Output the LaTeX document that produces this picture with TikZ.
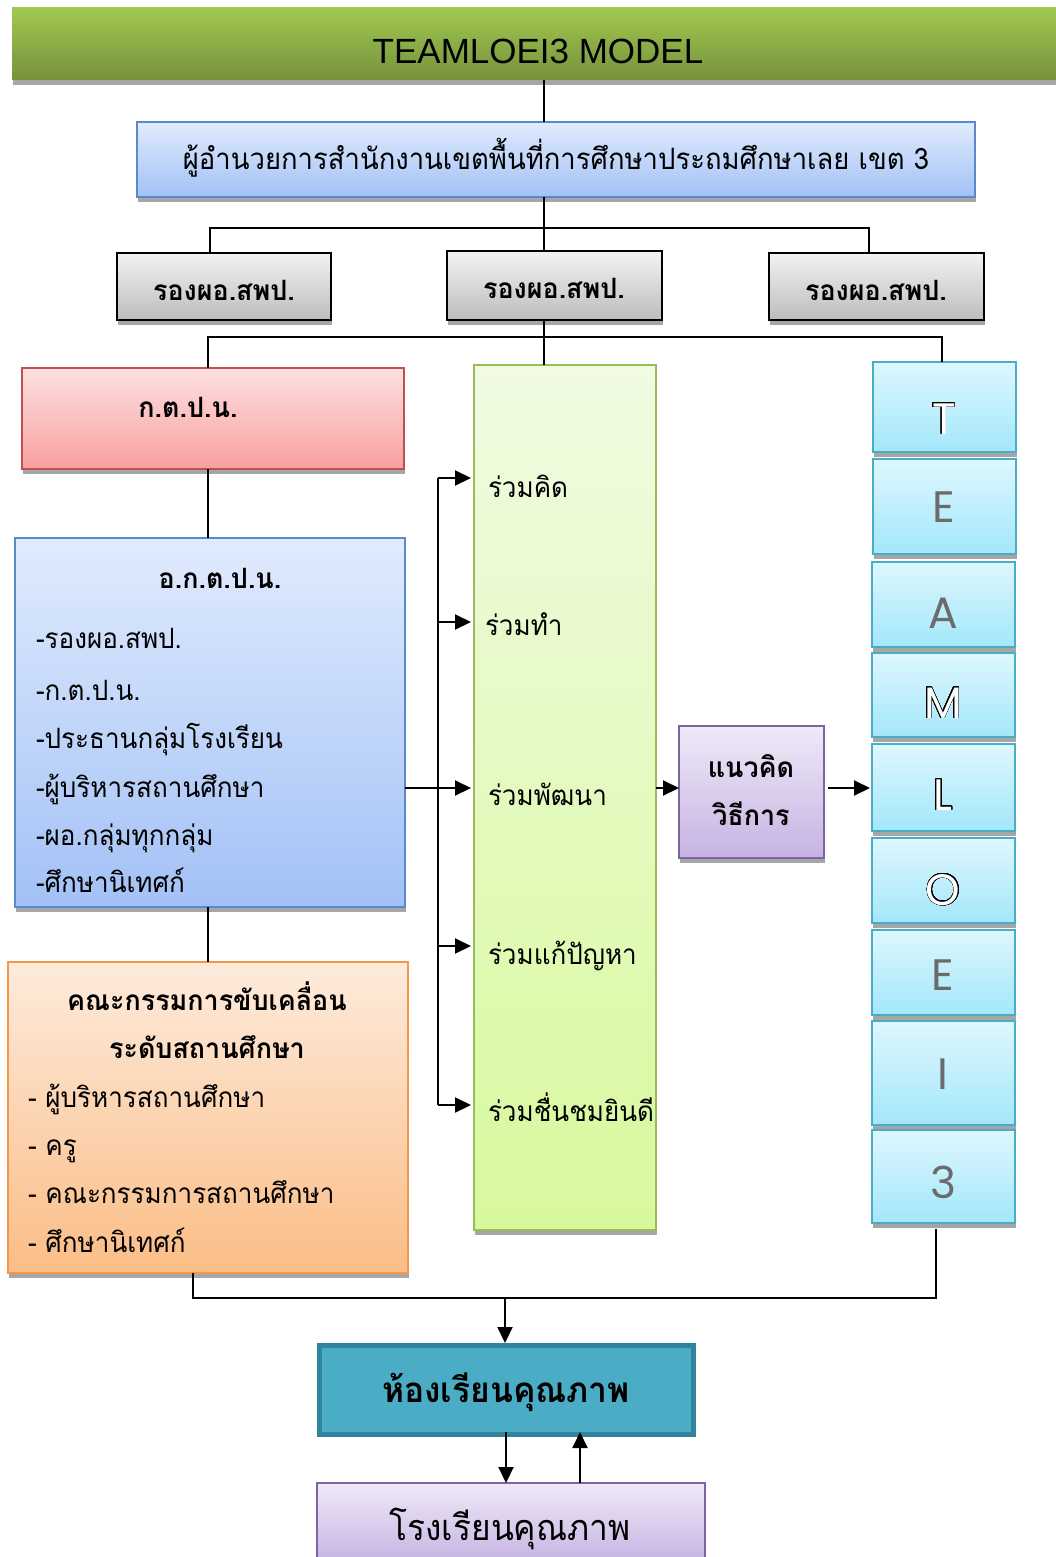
\documentclass[tikz,border=0pt]{standalone}
\usepackage{fontspec}
\setmainfont{Liberation Sans}
\newfontfamily\thai[Script=Thai,FakeStretch=0.93]{Loma}
\newfontfamily\thaib[Script=Thai,FakeStretch=0.96]{Loma}
\newfontfamily\geo{Poppins}
\usepackage{contour}
\contourlength{0.7pt}
\contournumber{32}
\usetikzlibrary{arrows.meta,shadows}
\definecolor{hdrT}{HTML}{A0C850}\definecolor{hdrB}{HTML}{76923C}
\definecolor{bluT}{HTML}{E0EBFD}\definecolor{bluB}{HTML}{A3C1F6}\definecolor{bluD}{HTML}{5B89CC}
\definecolor{gryT}{HTML}{F2F2F2}\definecolor{gryB}{HTML}{BDBDBD}
\definecolor{redT}{HTML}{FDE0E0}\definecolor{redB}{HTML}{F8A0A0}\definecolor{redD}{HTML}{C0504D}
\definecolor{orgT}{HTML}{FDEBDC}\definecolor{orgB}{HTML}{FBBD86}\definecolor{orgD}{HTML}{F79646}
\definecolor{grnT}{HTML}{F0FBE2}\definecolor{grnB}{HTML}{D7F99C}\definecolor{grnD}{HTML}{9BBB59}
\definecolor{purT}{HTML}{EFE9F8}\definecolor{purB}{HTML}{C6B3E2}\definecolor{purD}{HTML}{8064A2}
\definecolor{cyaT}{HTML}{DEF7FE}\definecolor{cyaB}{HTML}{A3E7FA}\definecolor{cyaD}{HTML}{4BACC6}
\definecolor{clsF}{HTML}{4BACC6}\definecolor{clsD}{HTML}{31849B}
\definecolor{ltrG}{HTML}{6B6B6B}
\begin{document}
\begin{tikzpicture}[x=1pt,y=-1pt,
  bx/.style={inner sep=0pt, outer sep=0pt, line width=1.5pt,
    drop shadow={shadow xshift=1pt, shadow yshift=-5pt, fill=black!35, opacity=1}},
  hdr/.style={bx, draw=none, top color=hdrT, bottom color=hdrB},
  bluebox/.style={bx, draw=bluD, top color=bluT, bottom color=bluB},
  greybox/.style={bx, draw=black, line width=2pt, top color=gryT, bottom color=gryB},
  redbox/.style={bx, draw=redD, top color=redT, bottom color=redB},
  orgbox/.style={bx, draw=orgD, top color=orgT, bottom color=orgB},
  grnbox/.style={bx, draw=grnD, top color=grnT, bottom color=grnB},
  purbox/.style={bx, draw=purD, top color=purT, bottom color=purB},
  cyabox/.style={bx, draw=cyaD, line width=2pt, top color=cyaT, bottom color=cyaB, minimum width=143pt},
  clsbox/.style={inner sep=0pt, outer sep=0pt, draw=clsD, line width=5pt, fill=clsF},
  conn/.style={line width=2pt, black},
  arr/.style={conn, -{Triangle[length=16pt,width=15pt]}},
  tx/.style={inner sep=0pt, outer sep=0pt, text=black},
  th/.style={tx, font=\thai\fontsize{28}{28}\selectfont},
  thb/.style={tx, font=\thaib\bfseries\fontsize{28}{28}\selectfont},
  ltr/.style={tx, font=\geo\fontsize{44}{44}\selectfont}
]
\useasboundingbox (0,0) rectangle (1056,1557);
\fill[white] (0,0) rectangle (1056,1557);

% ---------- boxes ----------
\node[hdr, minimum width=1046pt, minimum height=72pt] (title) at (535,44) {};
\node[bluebox, minimum width=838pt, minimum height=75pt] (dir) at (556,159.5) {};
\node[greybox, minimum width=214pt, minimum height=67pt] (g1) at (224,286.5) {};
\node[greybox, minimum width=215pt, minimum height=69pt] (g2) at (554.5,285.5) {};
\node[greybox, minimum width=215pt, minimum height=67pt] (g3) at (876.5,286.5) {};
\node[redbox, minimum width=382pt, minimum height=101pt] (kpn) at (213,418.5) {};
\node[bluebox, minimum width=390pt, minimum height=369pt] (okpn) at (210,722.5) {};
\node[orgbox, minimum width=400pt, minimum height=311pt] (comm) at (208,1117.5) {};
\node[grnbox, minimum width=182pt, minimum height=865pt] (green) at (565,797.5) {};
\node[purbox, minimum width=145pt, minimum height=132pt] (idea) at (751.5,792) {};
\node[cyabox, minimum height=90pt] (lT) at (944.5,407) {};
\node[cyabox, minimum height=95pt] (lE) at (944.5,506.5) {};
\node[cyabox, minimum height=85pt] (lA) at (943.5,604.5) {};
\node[cyabox, minimum height=84pt] (lM) at (943.5,695) {};
\node[cyabox, minimum height=87pt] (lL) at (943.5,787.5) {};
\node[cyabox, minimum height=85pt] (lO) at (943.5,880.5) {};
\node[cyabox, minimum height=85pt] (lE2) at (943.5,972.5) {};
\node[cyabox, minimum height=104pt] (lI) at (943.5,1073) {};
\node[cyabox, minimum height=93pt] (l3) at (943.5,1176.5) {};
\node[clsbox, minimum width=374pt, minimum height=89pt] (cls) at (506,1389.5) {};
\node[purbox, minimum width=388pt, minimum height=80pt] (sch) at (511,1523) {};

% ---------- texts ----------
\node[tx, font=\fontsize{35}{35}\selectfont] (titletx) at (538,51) {TEAMLOEI3 MODEL};
\node[tx, anchor=base, font=\thai\fontsize{29.5}{29.5}\selectfont] (dirtx) at (556,170) {ผู้อำนวยการสำนักงานเขตพื้นที่การศึกษาประถมศึกษาเลย เขต 3};
\node[thb, anchor=base] (g1tx) at (224,300) {รองผอ.สพป.};
\node[thb, anchor=base] (g2tx) at (554,298) {รองผอ.สพป.};
\node[thb, anchor=base] (g3tx) at (876,300) {รองผอ.สพป.};
\node[thb, anchor=base] (kpntx) at (188,417) {ก.ต.ป.น.};
\node[thb, anchor=base] (okh) at (220,588) {อ.ก.ต.ป.น.};
\node[th, anchor=base west] (ok1) at (36,648) {-รองผอ.สพป.};
\node[th, anchor=base west] (ok2) at (36,700) {-ก.ต.ป.น.};
\node[th, anchor=base west] (ok3) at (36,748) {-ประธานกลุ่มโรงเรียน};
\node[th, anchor=base west] (ok4) at (36,797) {-ผู้บริหารสถานศึกษา};
\node[th, anchor=base west] (ok5) at (36,845) {-ผอ.กลุ่มทุกกลุ่ม};
\node[th, anchor=base west] (ok6) at (36,892) {-ศึกษานิเทศก์};
\node[thb, anchor=base] (cmh1) at (207,1010) {คณะกรรมการขับเคลื่อน};
\node[thb, anchor=base] (cmh2) at (207,1058) {ระดับสถานศึกษา};
\node[th, anchor=base west] (cm1) at (28,1107) {- ผู้บริหารสถานศึกษา};
\node[th, anchor=base west] (cm2) at (28,1155) {- ครู};
\node[th, anchor=base west] (cm3) at (28,1203) {- คณะกรรมการสถานศึกษา};
\node[th, anchor=base west] (cm4) at (28,1252) {- ศึกษานิเทศก์};
\node[th, anchor=base west] (gr1) at (488,497) {ร่วมคิด};
\node[th, anchor=base west] (gr2) at (485,635) {ร่วมทำ};
\node[th, anchor=base west] (gr3) at (488,805) {ร่วมพัฒนา};
\node[th, anchor=base west] (gr4) at (488,964) {ร่วมแก้ปัญหา};
\node[th, anchor=base west] (gr5) at (488,1121) {ร่วมชื่นชมยินดี};
\node[thb, anchor=base] (id1) at (751,777) {แนวคิด};
\node[thb, anchor=base] (id2) at (751,825) {วิธีการ};
\node[ltr, anchor=base] (tT) at (944,434) {\contour{black}{\textcolor{white}{T}}};
\node[ltr, anchor=base, text=ltrG] (tE) at (944,522) {E};
\node[ltr, anchor=base, text=ltrG] (tA) at (943,628) {A};
\node[ltr, anchor=base] (tM) at (943,718) {\contour{black}{\textcolor{white}{M}}};
\node[ltr, anchor=base] (tL) at (943,810) {\contour{black}{\textcolor{white}{L}}};
\node[ltr, anchor=base] (tO) at (943,905) {\contour{black}{\textcolor{white}{O}}};
\node[ltr, anchor=base, text=ltrG] (tE2) at (943,990) {E};
\node[ltr, anchor=base, text=ltrG] (tI) at (943,1089) {I};
\node[ltr, anchor=base, text=ltrG] (t3) at (943,1198) {3};
\node[tx, anchor=base, font=\thaib\bfseries\fontsize{35}{35}\selectfont] (clstx) at (506,1402) {ห้องเรียนคุณภาพ};
\node[tx, anchor=base, font=\thai\fontsize{36}{36}\selectfont] (schtx) at (510,1540) {โรงเรียนคุณภาพ};

% ---------- connectors ----------
\coordinate (cx) at (544,0);
\coordinate (a1) at (210,228); \coordinate (a2) at (544,228); \coordinate (a3) at (869,228);
\coordinate (b1) at (208,337); \coordinate (b2) at (544,337); \coordinate (b3) at (942,337);
\draw[conn] (title.south -| cx) -- (dir.north -| cx);
\draw[conn] (dir.south -| cx) -- (g2.north -| cx);
\draw[conn] (g1.north -| a1) -- (a1) -- (a3) -- (g3.north -| a3);
\draw[conn] (g2.south -| cx) -- (green.north -| cx);
\draw[conn] (kpn.north -| b1) -- (b1) -- (b3) -- (lT.north -| b3);
\draw[conn] (kpn.south -| b1) -- (okpn.north -| b1);
\draw[conn] (okpn.south -| b1) -- (comm.north -| b1);
\coordinate (r1) at (438,478); \coordinate (r2) at (438,622); \coordinate (r3) at (438,788);
\coordinate (r4) at (438,946); \coordinate (r5) at (438,1105);
\draw[conn] (r1) -- (r5);
\foreach \r in {r1,r2,r3,r4,r5} { \draw[arr, shorten >=3pt] (\r) -- (green.west |- \r); }
\draw[conn] (okpn.east |- r3) -- (r3);
\draw[arr] (green.east |- r3) -- (idea.west |- r3);
\draw[arr, shorten <=4pt, shorten >=2pt] (idea.east |- r3) -- (lL.west |- r3);
\coordinate (c1) at (193,1298); \coordinate (c0) at (505,1298); \coordinate (c2) at (936,1298);
\draw[conn] (comm.south -| c1) -- (c1) -- (c2) -- ([yshift=-6pt]l3.south -| c2);
\draw[arr] (c0) -- ([yshift=2pt]cls.north -| c0);
\coordinate (d1) at (506,0); \coordinate (d2) at (580,0);
\draw[arr] ([yshift=2pt]cls.south -| d1) -- (sch.north -| d1);
\draw[arr] (sch.north -| d2) -- ([yshift=2pt]cls.south -| d2);
\end{tikzpicture}
\end{document}
